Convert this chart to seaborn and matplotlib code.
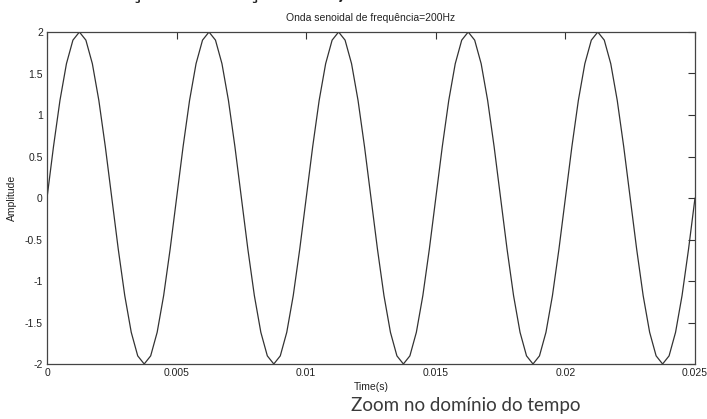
import numpy as np
import pandas as pd
import matplotlib
matplotlib.use("Agg")
import matplotlib.pyplot as plt
import seaborn as sns

# ---- data ----
title = "Onda senoidal de frequência=200Hz"
xlabel = "Time(s)"
ylabel = "Amplitude"
caption = "Zoom no domínio do tempo"
header = "Simulação da função real,"

# sample instants (0 .. 0.025 s, 101 samples) and amplitudes
time_s = np.linspace(0.0, 0.025, 101)
amplitude = [
    0.0, 0.618, 1.176, 1.618, 1.902, 2.0, 1.902, 1.618, 1.176, 0.618,
    0.0, -0.618, -1.176, -1.618, -1.902, -2.0, -1.902, -1.618, -1.176, -0.618,
    0.0, 0.618, 1.176, 1.618, 1.902, 2.0, 1.902, 1.618, 1.176, 0.618,
    0.0, -0.618, -1.176, -1.618, -1.902, -2.0, -1.902, -1.618, -1.176, -0.618,
    0.0, 0.618, 1.176, 1.618, 1.902, 2.0, 1.902, 1.618, 1.176, 0.618,
    0.0, -0.618, -1.176, -1.618, -1.902, -2.0, -1.902, -1.618, -1.176, -0.618,
    0.0, 0.618, 1.176, 1.618, 1.902, 2.0, 1.902, 1.618, 1.176, 0.618,
    0.0, -0.618, -1.176, -1.618, -1.902, -2.0, -1.902, -1.618, -1.176, -0.618,
    0.0, 0.618, 1.176, 1.618, 1.902, 2.0, 1.902, 1.618, 1.176, 0.618,
    0.0, -0.618, -1.176, -1.618, -1.902, -2.0, -1.902, -1.618, -1.176, -0.618,
    0.0,
]
xticks = [0, 0.005, 0.01, 0.015, 0.02, 0.025]
xticklabels = ["0", "0.005", "0.01", "0.015", "0.02", "0.025"]
yticks = [-2, -1.5, -1, -0.5, 0, 0.5, 1, 1.5, 2]
yticklabels = ["-2", "-1.5", "-1", "-0.5", "0", "0.5", "1", "1.5", "2"]

df = pd.DataFrame({"t": time_s, "y": amplitude})

sns.set_style("white")
plt.rcParams["font.family"] = ["Liberation Sans", "DejaVu Sans"]
plt.rcParams["axes.unicode_minus"] = False

fig = plt.figure(figsize=(7.07, 4.19), dpi=100)
ax = fig.add_axes([47 / 707, 1 - 364 / 419, 648 / 707, 332 / 419])

sns.lineplot(data=df, x="t", y="y", ax=ax, color="#333333", linewidth=0.9)

ax.set_xlim(0, 0.025)
ax.set_ylim(-2, 2)
ax.set_xticks(xticks)
ax.set_xticklabels(xticklabels)
ax.set_yticks(yticks)
ax.set_yticklabels(yticklabels)
ax.tick_params(direction="in", length=5, width=0.8, color="#333333",
               labelsize=7.5, labelcolor="#222222", top=True, right=True,
               pad=3)
for s in ax.spines.values():
    s.set_color("#444444")
    s.set_linewidth(0.9)

ax.set_xlabel(xlabel, fontsize=7.5, color="#222222", labelpad=3)
ax.set_ylabel(ylabel, fontsize=7.5, color="#222222", labelpad=6)
ax.set_title(title, fontsize=7.5, color="#222222", pad=8)

fig.text(466 / 707, 1 - 405 / 419, caption, ha="center", va="center",
         fontsize=13.5, color="#3a3a3a", family=["Lato", "DejaVu Sans"])
fig.text(55 / 707, 1 + 1 / 419, header, ha="left", va="baseline",
         fontsize=14.3, fontweight="bold", color="#222222",
         family=["DejaVu Sans"])

fig.savefig("out.png", dpi=100)
